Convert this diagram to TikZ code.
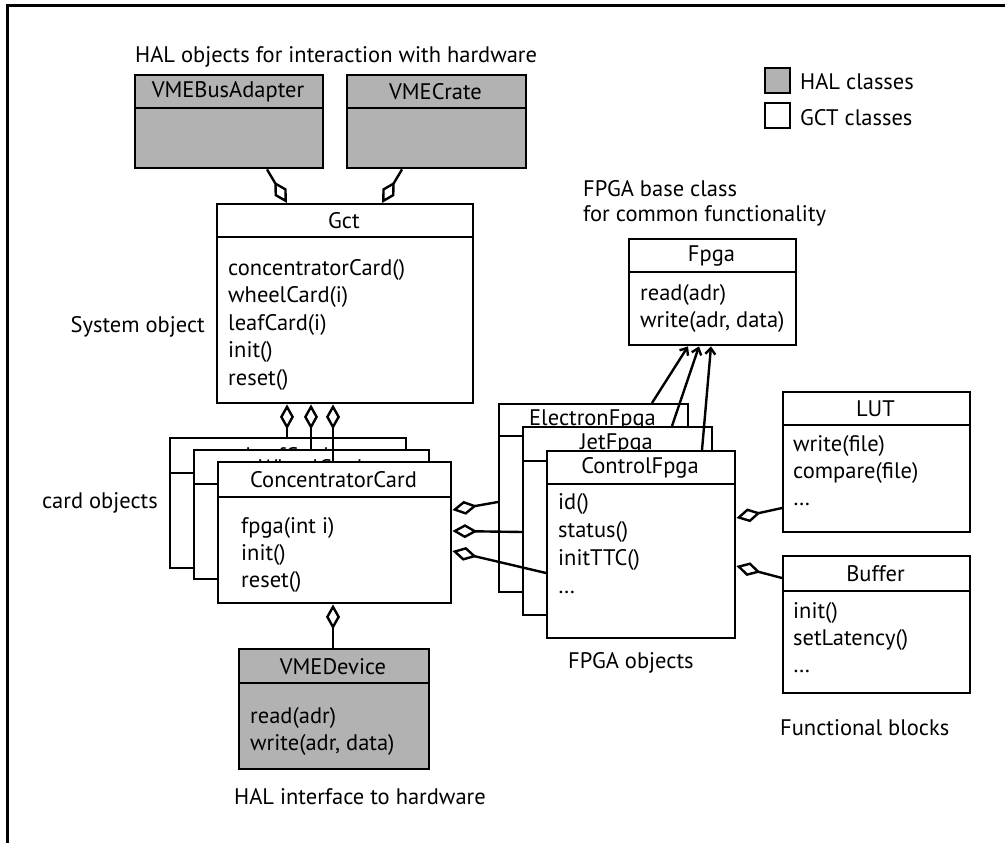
\documentclass[tikz,border=0pt]{standalone}
\usepackage{fontspec}
\setmainfont{PT Sans}
\usetikzlibrary{arrows.meta,calc}
\definecolor{halgray}{gray}{0.70}
\tikzset{
  boxline/.style={line width=2.4pt},
  halbox/.style={boxline, draw=black, fill=halgray, rectangle, inner sep=0pt},
  gctbox/.style={boxline, draw=black, fill=white, rectangle, inner sep=0pt},
  txt/.style={inner sep=0pt, font=\fontsize{22.5}{27}\selectfont},
  agg/.style={line width=2.4pt, {Diamond[open, length=25pt, width=14pt]}-},
  inh/.style={line width=2.4pt, -{Straight Barb[length=6pt, width=10pt]}},
}
\newcommand{\classbox}[8]{%
  \node[#2, minimum width={#5-#3}, minimum height={#6-#4}, anchor=north west] (#1) at (#3,#4) {};
  \draw[boxline] (#3,#7) -- (#5,#7);
  \node[txt] (#1-t) at ({(#3+#5)/2},{(#4+#7)/2+1}) {#8};
}
\newcommand{\classlines}[5]{%
  \foreach \t [count=\i] in {#5}
    \node[txt, anchor=base west] (#1-l\i) at (#2,{#3+(\i-1)*#4}) {\t};
}
\begin{document}
\begin{tikzpicture}[x=1pt,y=-1pt]
\useasboundingbox (0,0) rectangle (1005,843);
% frame
\draw[line width=3pt] (7,843) -- (7,6) -- (1005,6);

% top labels
\node[txt, anchor=base west] (lhal) at (135,63) {HAL objects for interaction with hardware};
\node[txt, anchor=base east] (lsys) at (205,332) {System object};
\node[txt, anchor=base east] (lcard) at (158,508) {card objects};
\node[txt, anchor=base west] (lfpga1) at (583,196) {FPGA base class};
\node[txt, anchor=base west] (lfpga2) at (583,221) {for common functionality};
\node[txt, anchor=base west] (lfobj) at (568,668) {FPGA objects};
\node[txt, anchor=base west] (lfunc) at (780,735) {Functional blocks};
\node[txt, anchor=base west] (lhali) at (234,804) {HAL interface to hardware};

% legend
\node[halbox, minimum size=25pt, anchor=north west] (leghal) at (764,67) {};
\node[gctbox, minimum size=25pt, anchor=north west] (leggct) at (764,102) {};
\node[txt, anchor=base west] (leghalt) at (800,90) {HAL classes};
\node[txt, anchor=base west] (leggctt) at (800,125) {GCT classes};

% HAL boxes
\classbox{vba}{halbox}{134}{74}{322}{167}{108}{VMEBusAdapter}
\classbox{vmec}{halbox}{346}{74}{525}{167}{108}{VMECrate}

% Gct
\classbox{gct}{gctbox}{216}{203}{472}{402}{237}{Gct}
\classlines{gct}{228}{275}{27.5}{concentratorCard(),wheelCard(i),leafCard(i),init(),reset()}

% cards
\classbox{leaf}{gctbox}{169}{437}{405}{567}{473}{LeafCard}
\classbox{wheel}{gctbox}{193}{449}{428}{578}{484}{WheelCard}
\classbox{conc}{gctbox}{217}{461}{450}{602}{497}{ConcentratorCard}
\classlines{conc}{241}{533}{27}{fpga(int i),init(),reset()}

% VMEDevice
\classbox{vmed}{halbox}{238}{648}{428}{768}{683}{VMEDevice}
\classlines{vmed}{250}{723}{27}{read(adr),{write(adr, data)}}

% Fpga base
\classbox{fpga}{gctbox}{628}{238}{795}{344}{272}{Fpga}
\classlines{fpga}{640}{300}{27}{read(adr),{write(adr, data)}}

% FPGA objects
\classbox{efpga}{gctbox}{498}{403}{687}{591}{436}{ElectronFpga}
\classbox{jfpga}{gctbox}{522}{426}{711}{614}{461}{JetFpga}
\classbox{cfpga}{gctbox}{546}{450}{734}{637}{484}{ControlFpga}
\classlines{cfpga}{558}{509}{28}{id(),status(),initTTC(),{\ldots}}

% functional blocks
\classbox{lut}{gctbox}{782}{391}{969}{531}{425}{LUT}
\classlines{lut}{793}{451}{27}{write(file),compare(file),{\ldots}}
\classbox{buf}{gctbox}{782}{555}{969}{692}{591}{Buffer}
\classlines{buf}{793}{618}{27}{init(),setLatency(),{\ldots}}

% aggregations
\draw[agg] ($(gct.north west)+(71,0)$) -- ($(vba.south west)+(133,0)$);
\draw[agg] ($(gct.north west)+(166,0)$) -- ($(vmec.south west)+(56,0)$);
\draw[agg] ($(gct.south west)+(71,0)$) -- ($(leaf.north west)+(118,0)$);
\draw[agg] ($(gct.south west)+(95,0)$) -- ($(wheel.north west)+(118,0)$);
\draw[agg] ($(gct.south west)+(117,0)$) -- ($(conc.north west)+(116,0)$);
\draw[agg] ($(conc.south west)+(116,0)$) -- ($(vmed.north west)+(95,0)$);
\draw[agg] ($(conc.north east)+(0,49)$) -- ($(efpga.north west)+(0,99)$);
\draw[agg] ($(conc.north east)+(0,70)$) -- ($(jfpga.north west)+(0,106)$);
\draw[agg] ($(conc.north east)+(0,90)$) -- ($(cfpga.north west)+(0,123)$);
\draw[agg] ($(cfpga.north east)+(0,68)$) -- ($(lut.north west)+(0,117)$);
\draw[agg] ($(cfpga.north east)+(0,116)$) -- ($(buf.north west)+(0,23)$);

% inheritance
\draw[inh] ($(efpga.north west)+(154,0)$) -- ($(fpga.south west)+(60,0)$);
\draw[inh] ($(jfpga.north west)+(150,0)$) -- ($(fpga.south west)+(71,0)$);
\draw[inh] ($(cfpga.north west)+(156,0)$) -- ($(fpga.south west)+(83,0)$);
\end{tikzpicture}
\end{document}
